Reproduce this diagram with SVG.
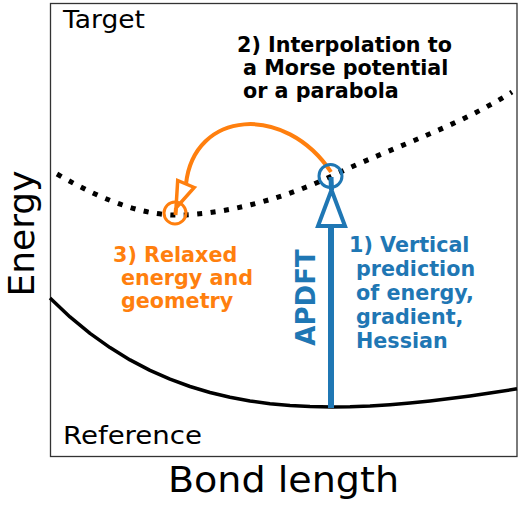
<svg xmlns="http://www.w3.org/2000/svg" width="520" height="510" viewBox="0 0 520 510">
<style>
.lbl{font-family:"DejaVu Sans","Liberation Sans",sans-serif;fill:#000}
.b{font-family:"DejaVu Sans","Liberation Sans",sans-serif;font-weight:bold;font-size:20.7px}
.blue{fill:#1f77b4}
.orange{fill:#ff7f0e}
.blk{fill:#000}
</style>
<rect width="520" height="510" fill="#fff"/>
<g id="axes">
<rect x="50.5" y="3.5" width="466.5" height="453" fill="none" stroke="#333" stroke-width="1.3"/>
</g>
<g id="curves">
<path id="reference-curve" d="M50,297.9 L70,316.9 L90,333.4 L110,347.6 L130,359.9 L150,370.4 L170,379.2 L190,386.5 L210,392.5 L230,397.3 L250,401 L270,403.7 L290,405.5 L310,406.6 L332,407 L350,406.8 L370,406 L390,404.7 L410,403 L430,401 L450,398.6 L470,396 L490,393.1 L517,388.8" fill="none" stroke="#000" stroke-width="3.5" stroke-linejoin="round"/>
<path id="target-curve" d="M57,174 C110,205 150,216 180,215 C230,214 290,196 332,176 C395,146 455,128 512,92" fill="none" stroke="#000" stroke-width="5" stroke-dasharray="5 8.5"/>
</g>
<g id="connectors">
<g id="apdft-arrow">
<line x1="331" y1="408" x2="331" y2="227" stroke="#1f77b4" stroke-width="6"/>
<polygon points="318,226 345,226 331.5,190" fill="#fff" stroke="#1f77b4" stroke-width="4" stroke-linejoin="miter"/>
<line x1="331.5" y1="190" x2="331" y2="177" stroke="#1f77b4" stroke-width="5"/>
</g>
<g id="relax-arrow">
<path d="M331,172 C285,103 194,110 186,184" fill="none" stroke="#ff7f0e" stroke-width="4"/>
<polygon points="194.3,187.5 177.7,180.5 176,208" fill="#fff" stroke="#ff7f0e" stroke-width="3.5"/>
<line x1="176" y1="208" x2="175.5" y2="215" stroke="#ff7f0e" stroke-width="4"/>
</g>
</g>
<g id="point-target-start">
<circle cx="330.5" cy="176" r="11.5" fill="none" stroke="#1f77b4" stroke-width="3"/>
</g>
<g id="point-relaxed">
<circle cx="175" cy="213" r="11" fill="none" stroke="#ff7f0e" stroke-width="3"/>
</g>
<g id="labels">
<text class="lbl" x="63" y="28" font-size="25" textLength="82" lengthAdjust="spacingAndGlyphs">Target</text>
<text class="lbl" x="63" y="444" font-size="25" textLength="139" lengthAdjust="spacingAndGlyphs">Reference</text>
<text class="lbl" x="168" y="492" font-size="36" textLength="231" lengthAdjust="spacingAndGlyphs">Bond length</text>
<text class="lbl" font-size="36" text-anchor="middle" transform="translate(34,233.5) rotate(-90)">Energy</text>
</g>
<g id="step2">
<text class="b blk" x="237" y="52">2) Interpolation to</text>
<text class="b blk" x="243" y="75">a Morse potential</text>
<text class="b blk" x="243" y="98">or a parabola</text>
</g>
<g id="step3">
<text class="b orange" x="113" y="262">3) Relaxed</text>
<text class="b orange" x="121" y="285">energy and</text>
<text class="b orange" x="121" y="308">geometry</text>
</g>
<g id="step1">
<text class="b blue" x="349" y="252">1) Vertical</text>
<text class="b blue" x="356" y="276">prediction</text>
<text class="b blue" x="356" y="300">of energy,</text>
<text class="b blue" x="356" y="324">gradient,</text>
<text class="b blue" x="356" y="348">Hessian</text>
<text class="b blue" style="font-size:26px" text-anchor="middle" transform="translate(315,297.5) rotate(-90)">APDFT</text>
</g>
</svg>
